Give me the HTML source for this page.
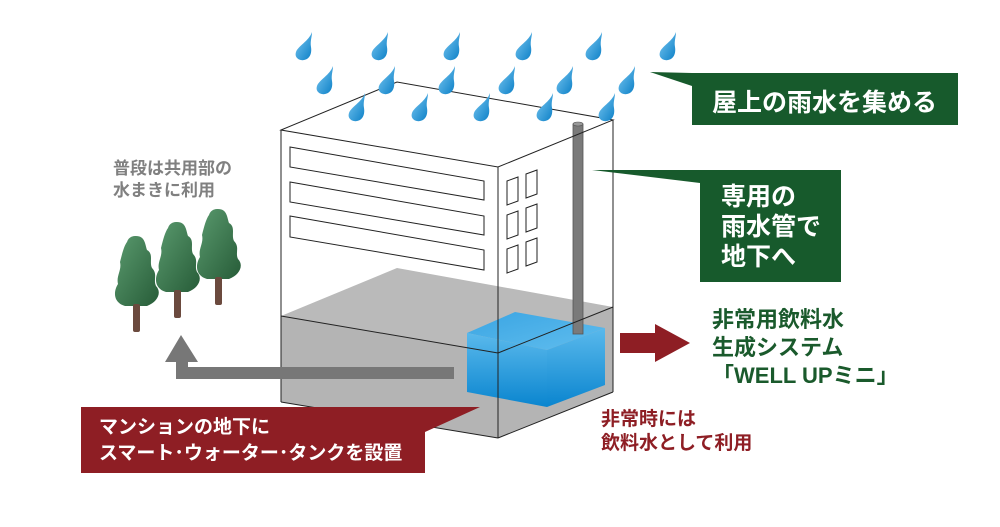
<!DOCTYPE html>
<html><head><meta charset="utf-8"><style>
html,body{margin:0;padding:0;background:#fff;}
body{width:1000px;height:527px;position:relative;overflow:hidden;font-family:"Liberation Sans","Noto Sans CJK JP",sans-serif;font-weight:bold;}
.t{position:absolute;white-space:nowrap;}
</style></head><body>
<svg width="1000" height="527" style="position:absolute;left:0;top:0">
<defs>
<linearGradient id="tf" x1="0" y1="0" x2="0" y2="1"><stop offset="0" stop-color="#5ab9ec"/><stop offset="1" stop-color="#0a85cf"/></linearGradient>
<linearGradient id="tt" x1="0" y1="0" x2="1" y2="1"><stop offset="0" stop-color="#3aa5e3"/><stop offset="1" stop-color="#60bdee"/></linearGradient>
<linearGradient id="tr" x1="0" y1="0" x2="1" y2="1"><stop offset="0" stop-color="#5a9a6e"/><stop offset="1" stop-color="#275c38"/></linearGradient>
<linearGradient id="dr" x1="0" y1="0" x2="1" y2="1"><stop offset="0" stop-color="#7cc9f2"/><stop offset="1" stop-color="#0b7fc6"/></linearGradient>
<g id="drop"><path d="M10 -14 C7 -5 -4 0 -6 6 C-8 12 -2 15 2 14 C8 13 10 7 9 1 C8 -5 10 -9 10 -14Z" fill="url(#dr)"/></g>
<g id="tree"><path d="M0 0 C9 0 9 8 11 14 C18 18 13 26 16 32 C22 38 17 44 20 50 C26 56 22 66 11 70 L-11 70 C-24 66 -22 54 -18 48 C-20 40 -14 34 -16 26 C-14 18 -12 10 -9 6 C-7 0 -2 0 0 0Z" fill="url(#tr)"/><rect x="-3" y="68" width="7" height="28" rx="2" fill="#6b4a3e"/></g>
</defs>
<polygon points="281,316 397,268 613,307 613,392 498,438 281,402" fill="#bababa"/>
<polygon points="281,316 498,353 613,307 613,392 498,438 281,402" fill="#b4b4b4"/>
<polygon points="467,333 515,312 605,328 547,350" fill="url(#tt)"/>
<polygon points="467,333 547,350 547,407 467,392" fill="url(#tf)"/>
<polygon points="547,350 605,328 605,385 547,407" fill="url(#tf)"/>
<rect x="573" y="124" width="10" height="210" fill="#7a7a7a" stroke="#555" stroke-width="0.8"/>
<ellipse cx="578" cy="124" rx="5" ry="2" fill="#999" stroke="#555" stroke-width="0.6"/>
<g fill="none" stroke="#222" stroke-width="1">
<polygon points="281,130 397,82 613,120 498,167"/>
<line x1="281" y1="130" x2="281" y2="402"/>
<line x1="498" y1="167" x2="498" y2="438"/>
<line x1="613" y1="120" x2="613" y2="392"/>
<line x1="281" y1="402" x2="498" y2="438"/>
<line x1="498" y1="438" x2="613" y2="392"/>
<line x1="281" y1="316" x2="498" y2="353"/>
<line x1="498" y1="353" x2="613" y2="307"/>
<polygon points="290,147 484,181 484,200 290,167"/>
<polygon points="290,182 484,216 484,235 290,202"/>
<polygon points="290,216 484,250 484,270 290,237"/>
<polygon points="507,181 518,177 518,201 507,205"/>
<polygon points="526,174 537,170 537,194 526,198"/>
<polygon points="507,215 518,211 518,235 507,239"/>
<polygon points="526,208 537,204 537,228 526,232"/>
<polygon points="507,249 518,245 518,269 507,273"/>
<polygon points="526,242 537,238 537,262 526,266"/>
</g>
<g>
<use href="#drop" x="302" y="46"/><use href="#drop" x="378" y="46"/><use href="#drop" x="450" y="46"/><use href="#drop" x="522" y="46"/><use href="#drop" x="592" y="46"/><use href="#drop" x="666" y="46"/>
<use href="#drop" x="323" y="80"/><use href="#drop" x="385" y="80"/><use href="#drop" x="445" y="80"/><use href="#drop" x="505" y="80"/><use href="#drop" x="563" y="80"/><use href="#drop" x="625" y="80"/>
<use href="#drop" x="355" y="107"/><use href="#drop" x="418" y="107"/><use href="#drop" x="480" y="107"/><use href="#drop" x="543" y="107"/><use href="#drop" x="605" y="107"/>
</g>
<use href="#tree" x="136" y="236"/>
<use href="#tree" x="177" y="222"/>
<use href="#tree" x="218" y="209"/>
<polygon points="176,379 454,379 454,367 188,367 188,362 198,362 181,335 165,362 176,362" fill="#777"/>
<polygon points="620,333 655,333 655,324 690,343 655,362 655,353 620,353" fill="#8e1e24"/>
<polygon points="650,72 692,73 958,73 958,125 692,125 692,86" fill="#175a2c"/>
<polygon points="592,170 700,170 841,170 841,282 700,282 700,183" fill="#175a2c"/>
<polygon points="81,407 480,407 425,432 425,473 81,473" fill="#8e1e24"/>
</svg>
<div class="t" style="left:712px;top:83px;font-size:25px;color:#fff;">屋上の雨水を集める</div>
<div class="t" style="left:721px;top:182px;font-size:25px;line-height:30px;color:#fff;">専用の<br>雨水管で<br>地下へ</div>
<div class="t" style="left:113px;top:158px;font-size:17px;line-height:22px;color:#808080;">普段は共用部の<br>水まきに利用</div>
<div class="t" style="left:99px;top:415px;font-size:19px;line-height:26px;color:#fff;">マンションの地下に<br>スマート･ウォーター･タンクを設置</div>
<div class="t" style="left:712px;top:306px;font-size:22px;line-height:28px;color:#1a5a2c;">非常用飲料水<br>生成システム<br>「WELL UPミニ」</div>
<div class="t" style="left:601px;top:408px;font-size:19px;line-height:24px;color:#8e1e24;">非常時には<br>飲料水として利用</div>
</body></html>
